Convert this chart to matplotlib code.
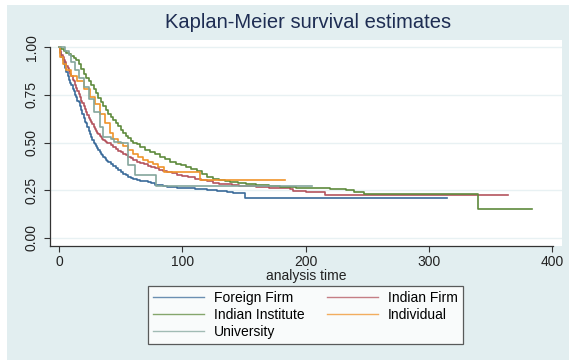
import numpy as np
import matplotlib
matplotlib.use('Agg')
import matplotlib.pyplot as plt
from matplotlib.patches import Rectangle

plt.rcParams['font.family'] = ['Liberation Sans', 'DejaVu Sans']

# survival step curves (time, S(t))
t_foreign = [0, 1, 2, 3, 4, 5, 6, 7, 8, 9, 10, 11, 12, 13, 14, 15, 16, 17, 18, 19, 20,
             21, 22, 23, 24, 25, 26, 27, 28, 29, 30, 31, 32, 33, 34, 35, 36, 37, 38, 39, 40,
             42, 44, 46, 48, 50, 52, 54, 56, 58, 60, 63, 66, 69, 72, 75, 78, 81, 84, 88, 92,
             96, 100, 105, 110, 115, 120, 125, 128, 132, 136, 141, 151, 315]
s_foreign = [1.0, 0.97, 0.95, 0.93, 0.91, 0.89, 0.87, 0.85, 0.83, 0.81, 0.80, 0.78, 0.77, 0.75,
             0.74, 0.72, 0.71, 0.69, 0.67, 0.65, 0.63, 0.61, 0.60, 0.58, 0.56, 0.545, 0.53, 0.515,
             0.50, 0.49, 0.48, 0.47, 0.46, 0.45, 0.44, 0.435, 0.425, 0.42, 0.41, 0.405, 0.40,
             0.39, 0.375, 0.365, 0.355, 0.345, 0.335, 0.328, 0.32, 0.315, 0.31, 0.305, 0.30,
             0.296, 0.292, 0.287, 0.28, 0.275, 0.272, 0.268, 0.266, 0.264, 0.262, 0.26, 0.257,
             0.255, 0.252, 0.25, 0.248, 0.245, 0.24, 0.235, 0.212, 0.212]

t_indfirm = [0, 1, 2, 3, 4, 5, 6, 7, 8, 9, 10, 11, 12, 13, 14, 15, 16, 17, 18, 19, 20,
             21, 22, 23, 24, 25, 26, 27, 28, 29, 30, 31, 32, 33, 34, 35, 36, 37, 38, 39, 40,
             42, 44, 46, 48, 50, 52, 54, 56, 58, 60, 63, 66, 69, 72, 75, 78, 81, 84, 88, 92,
             96, 100, 105, 110, 115, 120, 125, 130, 135, 140, 146, 152, 160, 170, 179, 187,
             190, 200, 216, 364]
s_indfirm = [1.0, 0.98, 0.96, 0.95, 0.93, 0.92, 0.90, 0.89, 0.875, 0.86, 0.85, 0.83, 0.82, 0.80,
             0.785, 0.77, 0.755, 0.74, 0.72, 0.705, 0.69, 0.675, 0.66, 0.645, 0.63, 0.62, 0.605,
             0.595, 0.58, 0.57, 0.56, 0.552, 0.544, 0.536, 0.528, 0.52, 0.515, 0.51, 0.505, 0.50,
             0.495, 0.486, 0.476, 0.466, 0.457, 0.448, 0.44, 0.433, 0.426, 0.418, 0.41, 0.40,
             0.392, 0.385, 0.378, 0.371, 0.365, 0.358, 0.352, 0.345, 0.338, 0.332, 0.326, 0.318,
             0.31, 0.303, 0.296, 0.29, 0.285, 0.281, 0.278, 0.274, 0.27, 0.267, 0.263, 0.26,
             0.255, 0.245, 0.243, 0.225, 0.225]

t_institute = [0, 2, 4, 6, 8, 10, 12, 14, 16, 18, 20, 22, 24, 26, 28, 30, 32, 34, 36, 38, 40,
               42, 44, 46, 48, 50, 52, 54, 56, 58, 60, 63, 66, 70, 74, 78, 82, 86, 90, 95, 99,
               103, 107, 112, 116, 120, 125, 130, 135, 139, 145, 152, 160, 170, 179, 192, 200,
               206, 220, 233, 239, 247, 340, 384]
s_institute = [1.0, 0.99, 0.98, 0.97, 0.965, 0.955, 0.945, 0.93, 0.91, 0.885, 0.86, 0.84, 0.82,
               0.80, 0.78, 0.76, 0.735, 0.71, 0.69, 0.67, 0.65, 0.635, 0.62, 0.60, 0.585, 0.565,
               0.55, 0.535, 0.525, 0.51, 0.50, 0.49, 0.475, 0.46, 0.45, 0.44, 0.425, 0.415, 0.40,
               0.39, 0.38, 0.37, 0.36, 0.35, 0.335, 0.32, 0.31, 0.305, 0.30, 0.295, 0.29, 0.283,
               0.278, 0.272, 0.268, 0.264, 0.262, 0.26, 0.255, 0.25, 0.24, 0.23, 0.152, 0.152]

t_individual = [0, 1, 3, 6, 10, 15, 20, 25, 29, 33, 37, 41, 44, 48, 52, 56, 60, 64, 68, 72, 76,
                80, 85, 114, 183]
s_individual = [1.0, 0.95, 0.91, 0.88, 0.85, 0.82, 0.78, 0.74, 0.70, 0.65, 0.60, 0.55, 0.52,
                0.50, 0.48, 0.46, 0.44, 0.425, 0.41, 0.40, 0.385, 0.37, 0.347, 0.304, 0.304]

t_univ = [0, 5, 8, 10, 13, 16, 20, 24, 28, 33, 36, 42, 45, 50, 56, 62, 79, 205]
s_univ = [1.0, 0.98, 0.96, 0.92, 0.88, 0.84, 0.79, 0.73, 0.66, 0.58, 0.53, 0.52, 0.505, 0.495,
          0.38, 0.33, 0.27, 0.27]

series = [
    ('Foreign Firm', t_foreign, s_foreign, '#3b6b9a'),
    ('Indian Firm', t_indfirm, s_indfirm, '#b4545e'),
    ('Indian Institute', t_institute, s_institute, '#5e8a3c'),
    ('Individual', t_individual, s_individual, '#f0932a'),
    ('University', t_univ, s_univ, '#84a69c'),
]

fig = plt.figure(figsize=(5.69, 3.6), dpi=100)
fig.patch.set_facecolor('white')
fig.patches.append(Rectangle((7/569, 0), 1, 1 - 5/360, transform=fig.transFigure,
                             facecolor='#e2eef0', edgecolor='none', zorder=-10))

ax = fig.add_axes([50/569, 1 - 246/360, 512/569, 206/360])
ax.set_facecolor('white')

lines = {}
for name, t, s, c in series:
    ln, = ax.step(t, s, where='post', color=c, lw=1.2, label=name)
    lines[name] = ln

ax.set_xlim(-7.3, 408)
ax.set_ylim(-0.042, 1.037)
ax.set_xticks([0, 100, 200, 300, 400])
ax.set_yticks([0, 0.25, 0.5, 0.75, 1.0])
ax.set_yticklabels(['0.00', '0.25', '0.50', '0.75', '1.00'], rotation=90, va='center')
ax.tick_params(axis='both', labelsize=10, length=4.5, width=0.8, color='#333333', labelcolor='#222222')
ax.tick_params(axis='x', pad=2)
ax.grid(True, axis='y', color='#e8f1f3', lw=1.0)
ax.set_axisbelow(True)
for sp in ['top', 'right']:
    ax.spines[sp].set_visible(False)
for sp in ['left', 'bottom']:
    ax.spines[sp].set_color('#333333')
    ax.spines[sp].set_linewidth(0.9)
ax.spines['bottom'].set_bounds(-7.3, 401)
ax.spines['left'].set_bounds(-0.042, 1.0)

ax.set_xlabel('analysis time', fontsize=10, color='#222222', labelpad=0)
fig.text(308/569, 1 - 22/360, 'Kaplan-Meier survival estimates', ha='center', va='center',
         fontsize=14.5, color='#1e2d53')

order = ['Foreign Firm', 'Indian Institute', 'University', 'Indian Firm', 'Individual']
leg = fig.legend([lines[k] for k in order], order, ncol=2, loc='center',
                 bbox_to_anchor=(305.5/569, 1 - 315/360), fontsize=10,
                 frameon=True, fancybox=False, edgecolor='#333333',
                 handlelength=3.7, handletextpad=0.7, columnspacing=1.6,
                 labelspacing=0.2, borderpad=0.35)
leg.get_frame().set_linewidth(0.9)
for ln in leg.get_lines():
    ln.set_linewidth(1.0)
    ln.set_alpha(0.75)

fig.savefig('out.png', dpi=100)
